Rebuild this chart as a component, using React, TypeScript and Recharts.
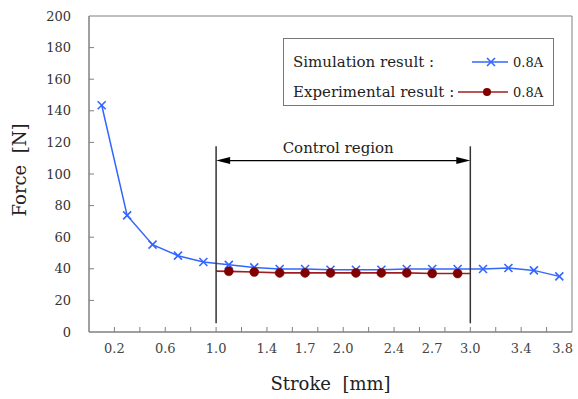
import React from 'react';
import { LineChart, Line, XAxis, YAxis, ReferenceLine, ReferenceArea, Label } from 'recharts';

// ---- data ----
const simStroke = [0.1, 0.3, 0.5, 0.7, 0.9, 1.1, 1.3, 1.5, 1.7, 1.9, 2.1, 2.3, 2.5, 2.7, 2.9, 3.1, 3.3, 3.5, 3.7];
const simForce = [143.5, 73.8, 55.3, 48.3, 44.3, 42.5, 40.9, 39.9, 39.9, 39.4, 39.4, 39.4, 39.9, 39.9, 39.9, 39.9, 40.5, 39.0, 35.2];

// first and last entries are the line ends at the region borders (no marker)
const expStroke = [1.0, 1.1, 1.3, 1.5, 1.7, 1.9, 2.1, 2.3, 2.5, 2.7, 2.9, 3.0];
const expForce = [38.5, 38.4, 38.0, 37.4, 37.4, 37.4, 37.4, 37.4, 37.4, 37.0, 37.0, 37.0];

const xTickMarks = [0, 0.2, 0.4, 0.6, 0.8, 1.0, 1.2, 1.4, 1.6, 1.8, 2.0, 2.2, 2.4, 2.6, 2.8, 3.0, 3.2, 3.4, 3.6, 3.8];
const xTickLabels = [0.2, 0.6, 1.0, 1.4, 1.7, 2.0, 2.4, 2.7, 3.0, 3.4, 3.8];
const yTicks = [0, 20, 40, 60, 80, 100, 120, 140, 160, 180, 200];

const regionBounds = [1.0, 3.0];
const regionTop = 117.5;
const regionBottom = 5.5;
const arrowForce = 108.5;
const regionText = 'Control region';

const legendNames = ['Simulation result :', 'Experimental result :'];
const legendCurrent = '0.8A';
const xTitle = 'Stroke\u00A0 [mm]';
const yTitle = 'Force\u00A0 [N]';

const simData = simStroke.map((x, i) => ({ x, y: simForce[i] }));
const expData = expStroke.map((x, i) => ({ x, y: expForce[i] }));
const xTicksAll = [...xTickMarks, 1.7, 2.7].sort((a, b) => a - b);

const BLUE = '#3366FF';
const RED_LINE = '#A01E1E';
const RED_DOT = '#800000';
const AXIS = '#808080';
const FONT = '"DejaVu Serif", serif';

const near = (a: number, b: number) => Math.abs(a - b) < 1e-6;

const XTick = (props: any) => {
  const { x, y, payload } = props;
  const v = payload.value as number;
  const mark = xTickMarks.some((m) => near(m, v)) && !near(v, 0) && !near(v, 3.8);
  const lab = xTickLabels.find((l) => near(l, v));
  const last = near(v, xTickLabels[xTickLabels.length - 1]);
  return (
    <g>
      {mark && <line x1={x} x2={x} y1={y} y2={y - 5} stroke={AXIS} strokeWidth={1} />}
      {lab !== undefined && (
        <text x={last ? x + 1 : x} y={y + 16} textAnchor={last ? 'end' : 'middle'} dominantBaseline="central"
          fontFamily={FONT} fontSize={13} fill="#444">
          {lab.toFixed(1)}
        </text>
      )}
    </g>
  );
};

const YTick = (props: any) => {
  const { x, y, payload } = props;
  const v = payload.value as number;
  return (
    <g>
      {v !== 0 && v !== 200 && <line x1={x} x2={x + 5} y1={y} y2={y} stroke={AXIS} strokeWidth={1} />}
      <text x={x - 18} y={y} textAnchor="end" dominantBaseline="central" fontFamily={FONT} fontSize={13} fill="#333">
        {v}
      </text>
    </g>
  );
};

const CrossDot = (props: any) => {
  const { cx, cy, index } = props;
  if (cx == null || cy == null) return <g key={index} />;
  const s = 4;
  return (
    <g key={index}>
      <line x1={cx - s} y1={cy - s} x2={cx + s} y2={cy + s} stroke={BLUE} strokeWidth={1.6} />
      <line x1={cx - s} y1={cy + s} x2={cx + s} y2={cy - s} stroke={BLUE} strokeWidth={1.6} />
    </g>
  );
};

const CircleDot = (props: any) => {
  const { cx, cy, index } = props;
  if (cx == null || cy == null || index === 0 || index === expData.length - 1) return <g key={index} />;
  return <circle key={index} cx={cx} cy={cy} r={4.5} fill={RED_DOT} stroke={RED_DOT} strokeWidth={0.5} />;
};

const ArrowShape = (props: any) => {
  const { x1, y1, x2, y2 } = props;
  if (x1 == null) return <g />;
  const h = 14;
  const w = 3.5;
  return (
    <g>
      <line x1={x1 + h - 2} y1={y1} x2={x2 - h + 2} y2={y2} stroke="#000" strokeWidth={1.2} />
      <polygon points={`${x1},${y1} ${x1 + h},${y1 - w} ${x1 + h},${y1 + w}`} fill="#000" />
      <polygon points={`${x2},${y2} ${x2 - h},${y2 - w} ${x2 - h},${y2 + w}`} fill="#000" />
      <text x={(x1 + x2) / 2 - 5} y={y1 - 13} textAnchor="middle" dominantBaseline="central"
        fontFamily={FONT} fontSize={15} fill="#222">
        {regionText}
      </text>
    </g>
  );
};

const YTitle = (props: any) => {
  const vb = props.viewBox || { x: 0, y: 16, width: 89, height: 316 };
  const cx = vb.x + 19;
  const cy = vb.y + vb.height / 2 - 4;
  return (
    <text x={cx} y={cy} transform={`rotate(-90 ${cx} ${cy})`} textAnchor="middle" dominantBaseline="central"
      fontFamily={FONT} fontSize={18} fill="#222">
      {yTitle}
    </text>
  );
};

const LegendBox = () => (
  <div style={{ position: 'absolute', left: 283, top: 38, width: 269, height: 66, border: '1px solid #777', background: '#fff' }}>
    <svg width={269} height={66} style={{ display: 'block' }}>
      <text x={9} y={23} dominantBaseline="central" fontFamily={FONT} fontSize={15} fill="#222">{legendNames[0]}</text>
      <line x1={188} x2={224} y1={23} y2={23} stroke={BLUE} strokeWidth={1.6} />
      <line x1={203} y1={19} x2={211} y2={27} stroke={BLUE} strokeWidth={1.6} />
      <line x1={203} y1={27} x2={211} y2={19} stroke={BLUE} strokeWidth={1.6} />
      <text x={229} y={23} dominantBaseline="central" fontFamily={FONT} fontSize={13} fill="#222">{legendCurrent}</text>
      <text x={9} y={53} dominantBaseline="central" fontFamily={FONT} fontSize={15} fill="#222">{legendNames[1]}</text>
      <line x1={174} x2={224} y1={53} y2={53} stroke={RED_LINE} strokeWidth={1.6} />
      <circle cx={203} cy={53} r={4} fill={RED_DOT} />
      <text x={229} y={53} dominantBaseline="central" fontFamily={FONT} fontSize={13} fill="#222">{legendCurrent}</text>
    </svg>
  </div>
);

export default function App() {
  return (
    <div style={{ position: 'absolute', left: 0, top: 0, width: 578, height: 399, background: '#fff' }}>
      <LineChart width={578} height={399} margin={{ top: 16, right: 6, bottom: 0, left: 0 }}>
        <XAxis type="number" dataKey="x" domain={[0, 3.8]} ticks={xTicksAll} interval={0} tick={<XTick />}
          tickSize={0} tickMargin={0} tickLine={false} axisLine={{ stroke: AXIS }} height={67} allowDataOverflow>
          <Label value={xTitle} position="insideBottom" offset={9} fontFamily={FONT} fontSize={18} fill="#222" />
        </XAxis>
        <YAxis type="number" domain={[0, 200]} ticks={yTicks} interval={0} tick={<YTick />} tickSize={0}
          tickMargin={0} tickLine={false} axisLine={{ stroke: AXIS }} width={89}>
          <Label content={<YTitle />} />
        </YAxis>
        <ReferenceArea x1={0} x2={3.8} y1={0} y2={200} fill="none" stroke={AXIS} strokeWidth={1} />
        <Line data={simData} dataKey="y" type="linear" stroke={BLUE} strokeWidth={1.5} dot={<CrossDot />}
          activeDot={false} isAnimationActive={false} />
        <Line data={expData} dataKey="y" type="linear" stroke={RED_LINE} strokeWidth={1.6} dot={<CircleDot />}
          activeDot={false} isAnimationActive={false} />
        {regionBounds.map((b) => (
          <ReferenceLine key={b} segment={[{ x: b, y: regionTop }, { x: b, y: regionBottom }]} stroke="#333"
            strokeWidth={1.5} />
        ))}
        <ReferenceLine segment={[{ x: regionBounds[0], y: arrowForce }, { x: regionBounds[1], y: arrowForce }]}
          shape={(p: any) => <ArrowShape {...p} />} />
      </LineChart>
      <LegendBox />
    </div>
  );
}
